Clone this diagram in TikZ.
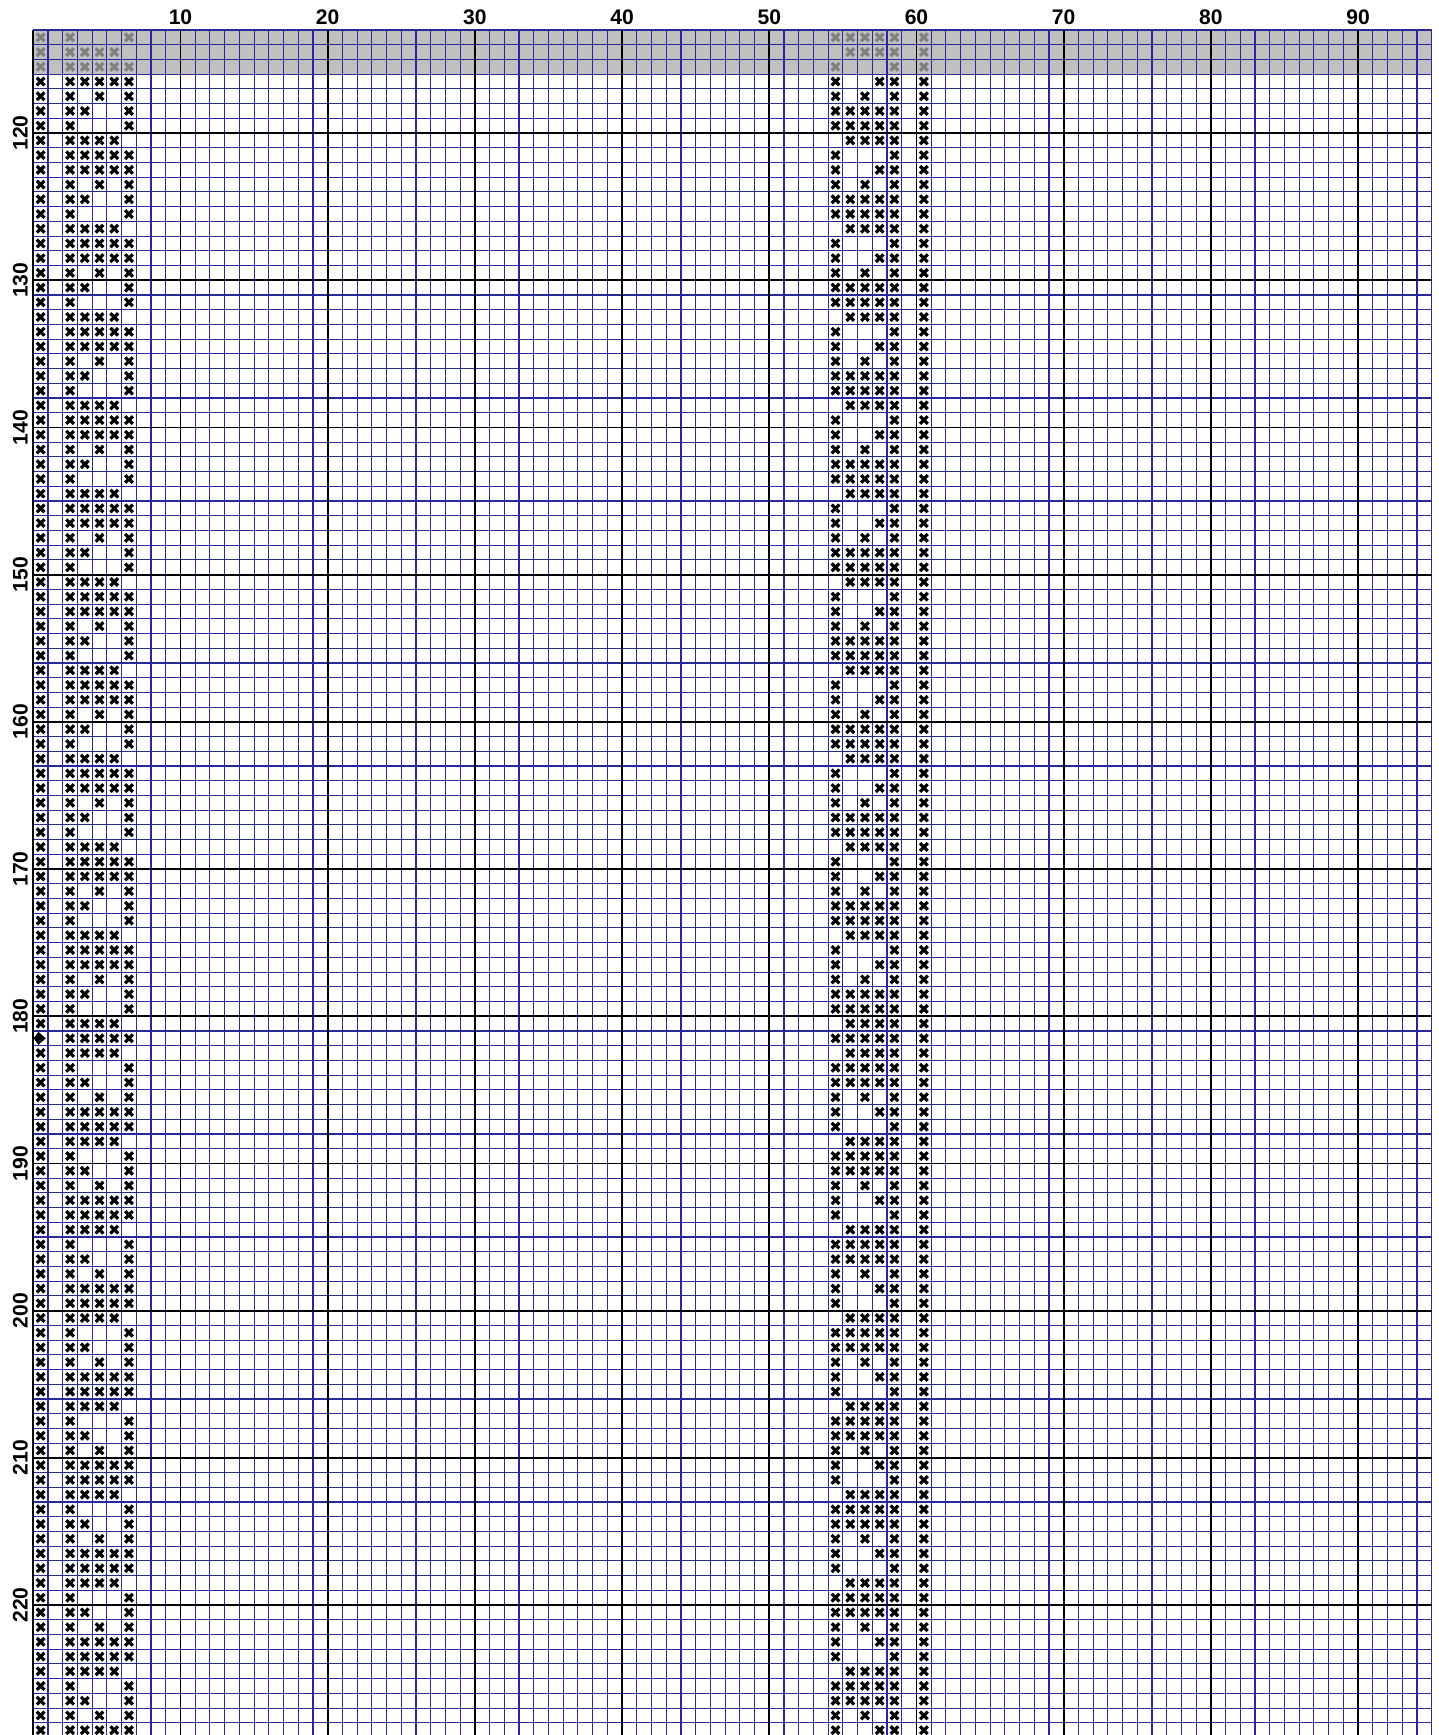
\documentclass[tikz,border=0pt]{standalone}
\usepackage{fontspec}
\setmainfont{Liberation Sans}
\usepackage{tikz}
\definecolor{GridBlue}{RGB}{40,40,150}
\definecolor{BandGrey}{RGB}{192,192,192}
\definecolor{StitchGrey}{RGB}{128,128,128}

% column lists of the left and right borders, by row phase
\expandafter\def\csname lcols0\endcsname{3,7}
\expandafter\def\csname lcols1\endcsname{3,4,5,6}
\expandafter\def\csname lcols2\endcsname{3,4,5,6,7}
\expandafter\def\csname lcols3\endcsname{3,4,5,6,7}
\expandafter\def\csname lcols4\endcsname{3,5,7}
\expandafter\def\csname lcols5\endcsname{3,4,7}
\expandafter\def\csname rcols0\endcsname{55,56,57,58,59}
\expandafter\def\csname rcols1\endcsname{56,57,58,59}
\expandafter\def\csname rcols2\endcsname{55,59}
\expandafter\def\csname rcols3\endcsname{55,58,59}
\expandafter\def\csname rcols4\endcsname{55,57,59}
\expandafter\def\csname rcols5\endcsname{55,56,57,58,59}

% one cross stitch: column, row, colour
\newcommand{\stitch}[3]{%
  \draw[stitchx, draw=#3] (#1-0.76,#2-113.76) -- (#1-0.24,#2-113.24)
    (#1-0.76,#2-113.24) -- (#1-0.24,#2-113.76);}

\begin{document}
\begin{tikzpicture}[
            x=3.68mm, y=-3.68mm,
            gridline/.style={GridBlue, line width=0.28mm},
            majorline/.style={black, line width=0.45mm},
            stitchx/.style={line width=0.8mm},
            collabel/.style={font=\fontsize{15}{15}\selectfont\bfseries, inner sep=0pt},
            rowlabel/.style={collabel, rotate=90}
        ]
        \useasboundingbox (-2.262,-2.038) rectangle (95.495,115.83);

        % Grey band of the previous page
        \fill[BandGrey] (0,0) rectangle (95,3);

        % Grid
        \foreach \i in {0,...,95} \draw[gridline] (\i,0) -- (\i,115.83);
        \foreach \j in {0,...,115} \draw[gridline] (0,\j) -- (95,\j);
        \foreach \i in {10,20,...,90} \draw[majorline] (\i,0) -- (\i,115.83);
        \foreach \j in {7,17,...,107} \draw[majorline] (0,\j) -- (95,\j);
        \draw[majorline] (0,0) -- (0,115.83);

        % Column and row numbers
        \foreach \i in {10,20,...,90} \node[collabel] (col\i) at (\i,-0.85) {\i};
        \foreach \rw in {120,130,...,220} \node[rowlabel] (row\rw) at (-0.88,\rw-113) {\rw};

        % Stitches
        \foreach \R in {114,...,229}{
          \pgfmathtruncatemacro{\ph}{\R<183 ? mod(\R-114,6) : mod(250-\R,6)}
          \pgfmathtruncatemacro{\rph}{\R==182 ? 0 : \ph}
          \ifnum\R<117 \def\ink{StitchGrey}\else\def\ink{black}\fi
          \edef\lcols{\csname lcols\ph\endcsname}
          \edef\rcols{\csname rcols\rph\endcsname}
          \foreach \c in \lcols {\stitch{\c}{\R}{\ink}}
          \foreach \c in \rcols {\stitch{\c}{\R}{\ink}}
          \ifnum\R=182 \else \stitch{1}{\R}{\ink}\fi
          \stitch{61}{\R}{\ink}
        }

        % Centre mark
        \fill (0.02,68.5) -- (0.35,68.06) -- (0.85,68.5) -- (0.35,68.94) -- cycle;

        \end{tikzpicture}
\end{document}
